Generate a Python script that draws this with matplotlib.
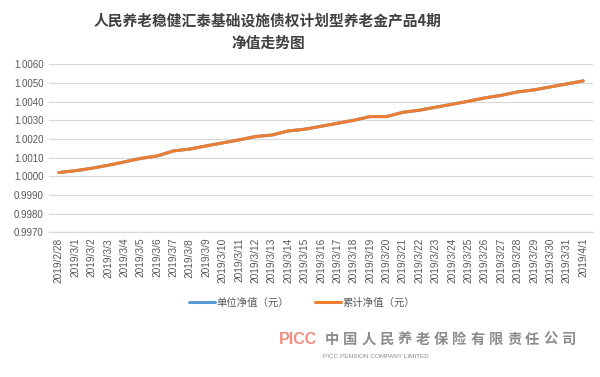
import matplotlib
matplotlib.use("Agg")
import matplotlib.pyplot as plt

plt.rcParams["font.family"] = ["Noto Sans CJK SC", "DejaVu Sans"]

# Dates shown on the x axis
dates = ["2019/2/28"] + ["2019/3/%d" % d for d in range(1, 32)] + ["2019/4/1"]

# Unit NAV and cumulative NAV (identical, blue is hidden under orange)
unit_nav = [1.0002, 1.0003, 1.00043, 1.00059, 1.00077, 1.00096, 1.00109, 1.00136,
            1.00146, 1.00163, 1.00179, 1.00195, 1.00213, 1.00221, 1.00243, 1.00252,
            1.00268, 1.00284, 1.0030, 1.0032, 1.0032, 1.00343, 1.00354, 1.0037,
            1.00386, 1.00402, 1.0042, 1.00434, 1.00452, 1.00463, 1.00479, 1.00495,
            1.00511]
cum_nav = list(unit_nav)

yticks = [0.9970, 0.9980, 0.9990, 1.0000, 1.0010, 1.0020, 1.0030, 1.0040, 1.0050, 1.0060]

company = "中国人民养老保险有限责任公司"

W, H = 600, 377
fig = plt.figure(figsize=(W / 100, H / 100), dpi=100)
ax = fig.add_axes([49 / W, 1 - 232.3 / H, (593 - 49) / W, (232.3 - 64.3) / H])

x = list(range(len(dates)))
l1, = ax.plot(x, unit_nav, color="#5B9BD5", lw=2.2, solid_capstyle="round")
l2, = ax.plot(x, cum_nav, color="#ED7D31", lw=2.2, solid_capstyle="round")

ax.set_xlim(-0.6, len(dates) - 0.4)
ax.set_ylim(0.9970, 1.0060)
ax.set_yticks(yticks)
ax.set_yticklabels(["%.4f" % v for v in yticks], fontsize=7, color="#595959",
                   family="Liberation Sans")
ax.set_xticks(x)
ax.set_xticklabels(dates, rotation=90, fontsize=7.3, color="#595959",
                   family="Liberation Sans")
ax.tick_params(length=0, pad=4)
ax.grid(axis="y", color="#D9D9D9", lw=0.9)
ax.set_axisbelow(True)
for s in ["top", "right", "left"]:
    ax.spines[s].set_visible(False)
ax.spines["bottom"].set_color("#D9D9D9")
ax.spines["bottom"].set_linewidth(0.9)

fig.text(268 / W, 1 - 20 / H, "人民养老稳健汇泰基础设施债权计划型养老金产品4期",
         ha="center", va="center", fontsize=10.6, fontweight="bold", color="#404040")
fig.text(268 / W, 1 - 43 / H, "净值走势图", ha="center", va="center",
         fontsize=10.6, fontweight="bold", color="#404040")

fig.legend([l1, l2], ["单位净值（元）", "累计净值（元）"], loc="center",
           bbox_to_anchor=(302 / W, 1 - 303 / H), ncol=2, frameon=False,
           fontsize=7.5, labelcolor="#595959", handlelength=2.5,
           handletextpad=0.1, columnspacing=2.5)

# company footer
fig.text(279 / W, 1 - 340 / H, "PICC", fontsize=11.5, fontweight="bold",
         color="#F08C80", va="center", ha="left", family="Liberation Sans")
for i, ch in enumerate(company):
    fig.text((332 + 18.2 * i) / W, 1 - 340 / H, ch, fontsize=10.3,
             fontweight="bold", color="#8C8C8C", va="center", ha="center")
fig.text(323 / W, 1 - 357 / H, "PICC PENSION COMPANY LIMITED", fontsize=4.6,
         color="#8C8C8C", va="center", ha="left", family="Liberation Sans")

fig.savefig("out.png", dpi=100, facecolor="white")
